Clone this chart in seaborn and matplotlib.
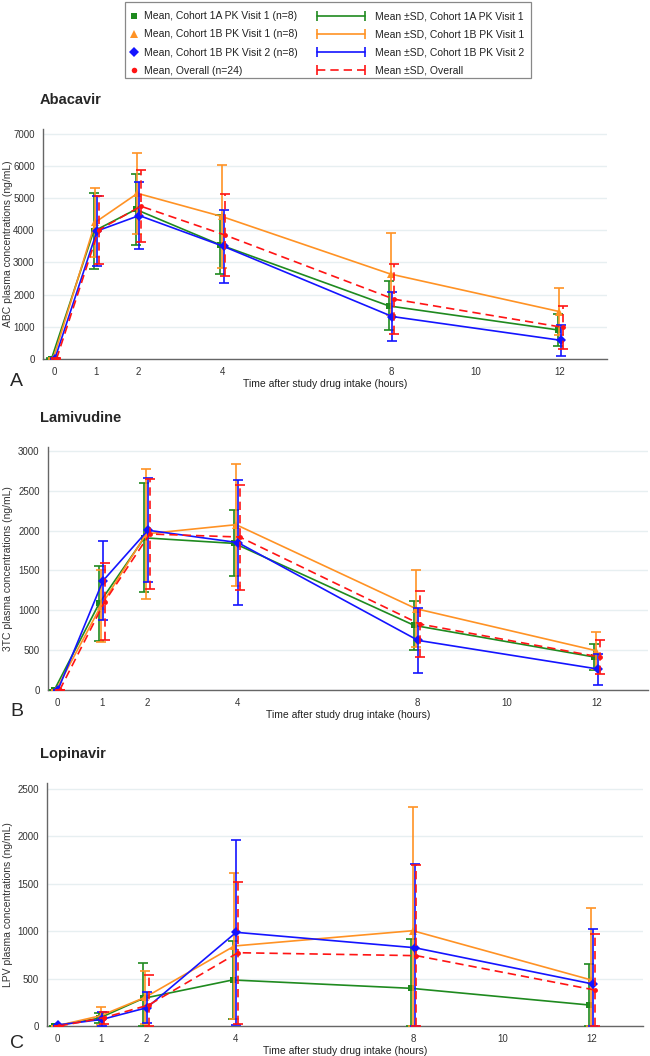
import numpy as np
import pandas as pd
import matplotlib
matplotlib.use('Agg')
import matplotlib.pyplot as plt
from matplotlib.lines import Line2D
from matplotlib.patches import Rectangle
from matplotlib.legend_handler import HandlerLine2D
import seaborn as sns

sns.set_style('white')
plt.rcParams['font.family'] = ['Liberation Sans', 'DejaVu Sans']

# sampling times (hours)
times = [0, 1, 2, 4, 8, 12]
xticks = [0, 1, 2, 4, 8, 10, 12]

groups = ['Cohort 1A PK Visit 1', 'Cohort 1B PK Visit 1', 'Cohort 1B PK Visit 2', 'Overall']
group_n = ['(n=8)', '(n=8)', '(n=8)', '(n=24)']

# Abacavir (ng/mL) mean and SD
abc_1a_mean = [0, 3970, 4650, 3550, 1650, 905]
abc_1a_sd = [20, 1180, 1096, 920, 763, 494]
abc_1b1_mean = [0, 4250, 5150, 4430, 2640, 1475]
abc_1b1_sd = [20, 1070, 1262, 1610, 1278, 728]
abc_1b2_mean = [0, 3980, 4460, 3500, 1320, 580]
abc_1b2_sd = [20, 1080, 1045, 1130, 764, 483]
abc_all_mean = [0, 4010, 4750, 3850, 1860, 985]
abc_all_sd = [20, 1055, 1117, 1273, 1080, 675]

# Lamivudine (ng/mL)
tc_1a_mean = [0, 1090, 1910, 1840, 810, 414]
tc_1a_sd = [5, 470, 682, 413, 303, 161]
tc_1b1_mean = [0, 1060, 1960, 2075, 1020, 493]
tc_1b1_sd = [5, 452, 818, 767, 480, 230]
tc_1b2_mean = [0, 1370, 2005, 1850, 623, 263]
tc_1b2_sd = [5, 495, 655, 788, 408, 195]
tc_all_mean = [0, 1110, 1958, 1920, 828, 414]
tc_all_sd = [5, 479, 694, 659, 416, 214]

# Lopinavir (ng/mL)
lpv_1a_mean = [0, 81, 291, 485, 397, 221]
lpv_1a_sd = [5, 52, 369, 410, 516, 432]
lpv_1b1_mean = [0, 108, 302, 843, 1004, 485]
lpv_1b1_sd = [5, 96, 281, 772, 1306, 761]
lpv_1b2_mean = [10, 70, 193, 987, 825, 442]
lpv_1b2_sd = [5, 81, 162, 972, 878, 576]
lpv_all_mean = [0, 88, 221, 772, 741, 379]
lpv_all_sd = [5, 63, 316, 748, 955, 590]

colors = ['#1f8a1f', '#ff9224', '#1414ff', '#ff1414']
markers = ['s', '^', 'D', 'o']
msizes = [4.5, 5.5, 5, 3.5]
offsets = [-0.06, -0.02, 0.02, 0.06]

panels = [
    ('Abacavir', 'A', 'ABC plasma concentrations (ng/mL)',
     [(abc_1a_mean, abc_1a_sd), (abc_1b1_mean, abc_1b1_sd), (abc_1b2_mean, abc_1b2_sd), (abc_all_mean, abc_all_sd)],
     np.arange(0, 7001, 1000), 7150, (43, 607, 129, 359), (-0.26, 13.11)),
    ('Lamivudine', 'B', '3TC plasma concentrations (ng/mL)',
     [(tc_1a_mean, tc_1a_sd), (tc_1b1_mean, tc_1b1_sd), (tc_1b2_mean, tc_1b2_sd), (tc_all_mean, tc_all_sd)],
     np.arange(0, 3001, 500), 3050, (48, 648, 447, 690), (-0.2, 13.13)),
    ('Lopinavir', 'C', 'LPV plasma concentrations (ng/mL)',
     [(lpv_1a_mean, lpv_1a_sd), (lpv_1b1_mean, lpv_1b1_sd), (lpv_1b2_mean, lpv_1b2_sd), (lpv_all_mean, lpv_all_sd)],
     np.arange(0, 2501, 500), 2560, (47, 643, 783, 1026), (-0.22, 13.14)),
]

W, H = 650, 1056
fig = plt.figure(figsize=(W / 100, H / 100), dpi=100)

for title, letter, ylabel, series, yt, ytop, box, xl in panels:
    left, right, top, bottom = box
    ax = fig.add_axes([left / W, 1 - bottom / H, (right - left) / W, (bottom - top) / H])
    for i, (m, s) in enumerate(series):
        m = np.array(m, dtype=float)
        s = np.array(s, dtype=float)
        x = np.array(times) + offsets[i]
        lo = np.maximum(m - s, 0)
        hi = m + s
        df = pd.DataFrame({'time': x, 'conc': m})
        ls = (0, (5, 3)) if i == 3 else '-'
        sns.lineplot(data=df, x='time', y='conc', ax=ax, color=colors[i], marker=markers[i],
                     markersize=msizes[i], markeredgewidth=0, linewidth=1.2, linestyle=ls,
                     errorbar=None, zorder=3 + i)
        eb = ax.errorbar(x, m, yerr=[m - lo, hi - m], fmt='none', ecolor=colors[i],
                         elinewidth=1.2, capsize=3.8, capthick=1.2, zorder=3 + i)
        if i == 3:
            eb[2][0].set_linestyle((0, (5, 3)))
    ax.set_xlim(*xl)
    ax.set_ylim(0, ytop)
    ax.set_xticks(xticks)
    ax.set_yticks(yt)
    ax.yaxis.grid(True, color='#e7eff1', linewidth=1.0)
    ax.set_axisbelow(True)
    for sp in ['top', 'right']:
        ax.spines[sp].set_visible(False)
    for sp in ['left', 'bottom']:
        ax.spines[sp].set_color('#666666')
        ax.spines[sp].set_linewidth(1.0)
    ax.tick_params(axis='both', direction='out', length=4, width=0.8, color='#666666',
                   labelsize=7, labelcolor='#333333', pad=2)
    ax.set_xlabel('Time after study drug intake (hours)', fontsize=7.5, color='#222222', labelpad=1)
    ax.set_ylabel(ylabel, fontsize=7.5, color='#333333')
    ax.yaxis.set_label_coords((13 - left) / (right - left), 0.5)
    fig.text(40 / W, 1 - (top - 29) / H, title, fontsize=10.5, fontweight='bold', va='center', ha='left')
    fig.text(10 / W, 1 - min(bottom + 22, 1043) / H, letter, fontsize=14, va='center', ha='left')

# legend: frame + two columns
fig.add_artist(Rectangle((125 / W, 1 - 78 / H), 406 / W, 76 / H, transform=fig.transFigure,
                         fill=False, edgecolor='#888888', linewidth=0.9))
mean_handles = [Line2D([], [], color=colors[i], marker=markers[i], markersize=msizes[i] + 0.5,
                       markeredgewidth=0, linestyle='none') for i in range(4)]
mean_labels = ['Mean, %s %s' % (g, n) for g, n in zip(groups, group_n)]
sd_handles = [Line2D([], [], color=colors[i], linewidth=1.2, marker='|', markersize=7,
                     markeredgewidth=1.2, linestyle=(0, (5, 3)) if i == 3 else '-') for i in range(4)]
sd_labels = ['Mean \u00b1SD, %s' % g for g in groups]

leg1 = fig.legend(mean_handles, mean_labels, loc='upper left', bbox_to_anchor=(120 / W, 1 - 3 / H),
                  frameon=False, fontsize=7.5, handlelength=1.0, handletextpad=0.5,
                  labelspacing=0.78, borderpad=0.3, numpoints=1)
leg2 = fig.legend(sd_handles, sd_labels, loc='upper left', bbox_to_anchor=(306 / W, 1 - 3 / H),
                  frameon=False, fontsize=7.5, handlelength=5.2, handletextpad=0.6,
                  labelspacing=0.78, borderpad=0.3,
                  handler_map={h: HandlerLine2D(numpoints=2) for h in sd_handles})
for t in leg1.get_texts() + leg2.get_texts():
    t.set_color('#222222')

fig.savefig('out.png', dpi=100)
